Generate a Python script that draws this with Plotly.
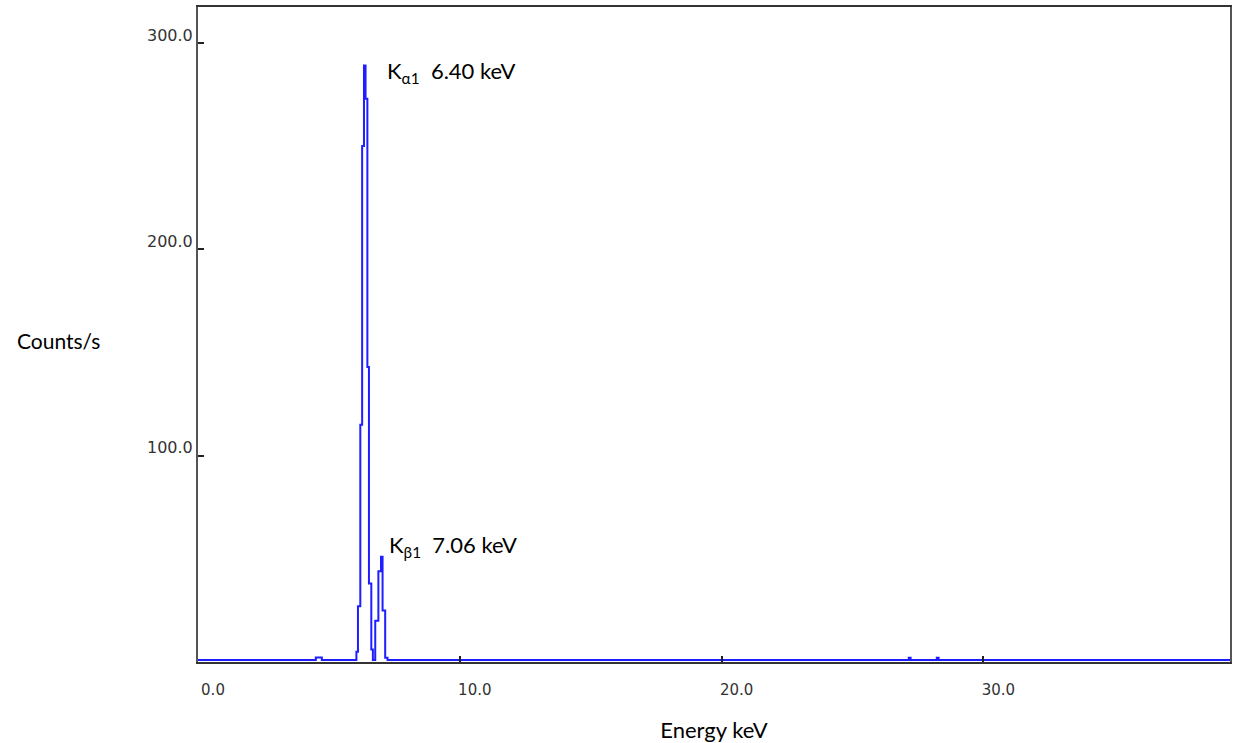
import plotly.graph_objects as go

# Step spectrum: each count applies from its energy to the next energy (keV)
energy = [0.0, 4.50, 4.73, 6.05, 6.11, 6.20, 6.27, 6.34, 6.40, 6.47, 6.53, 6.62, 6.68,
          6.77, 6.89, 6.99, 7.05, 7.15, 7.24, 27.15, 27.22, 28.22, 28.29, 39.42]
counts = [1.0, 2.2, 1.0, 5.0, 27.0, 115.0, 250.0, 289.0, 273.0, 143.0, 38.0, 6.0, 1.0,
          20.0, 44.0, 51.0, 25.0, 2.0, 1.0, 2.0, 1.0, 2.0, 1.0, 1.0]

x_ticks = [0, 10, 20, 30]
x_tick_labels = ["0.0", "10.0", "20.0", "30.0"]
y_ticks = [100, 200, 300]
y_tick_labels = ["100.0", "200.0", "300.0"]

peak_labels = ["K<sub>α1</sub>  6.40 keV", "K<sub>β1</sub>  7.06 keV"]
peak_label_x = [7.13, 7.21]
peak_label_y = [286, 56]

fig = go.Figure()
fig.add_trace(go.Scatter(
    x=energy, y=counts, mode="lines", line_shape="hv",
    line=dict(color="rgb(30,30,255)", width=2), showlegend=False, hoverinfo="x+y",
))

for t, xx, yy in zip(peak_labels, peak_label_x, peak_label_y):
    fig.add_annotation(x=xx, y=yy, xref="x", yref="y", text=t, showarrow=False,
                       xanchor="left", yanchor="middle",
                       font=dict(family="Lato", size=22, color="black"))

fig.add_annotation(x=-0.177, y=0.4916, xref="paper", yref="paper", text="Counts/s",
                   showarrow=False, xanchor="left", yanchor="middle",
                   font=dict(family="Lato", size=21, color="black"))

fig.update_layout(
    width=1233, height=743, autosize=False,
    margin=dict(l=198, r=1, t=7, b=81),
    paper_bgcolor="white", plot_bgcolor="white",
    xaxis=dict(
        range=[0, 39.42], tickvals=x_ticks, ticktext=x_tick_labels,
        ticks="inside", ticklen=6, tickwidth=2, tickcolor="#222",
        showgrid=False, zeroline=False,
        showline=True, linecolor="#333", linewidth=2, mirror=True,
        tickfont=dict(family="DejaVu Sans", size=15, color="#333"),
        ticklabelshift=15, ticklabelstandoff=13,
        title=dict(text="Energy keV", font=dict(family="Lato", size=22, color="black"), standoff=26),
    ),
    yaxis=dict(
        range=[0, 317.4], tickvals=y_ticks, ticktext=y_tick_labels,
        ticks="inside", ticklen=6, tickwidth=2, tickcolor="#222",
        showgrid=False, zeroline=False,
        showline=True, linecolor="#555", linewidth=2, mirror=True,
        tickfont=dict(family="DejaVu Sans", size=16, color="#333"),
        ticklabelshift=-8, ticklabelstandoff=0,
    ),
)

# remove the browser's default 8px page margin so the figure fills the window exactly
fig.write_html("out.html", config={"responsive": False, "displayModeBar": False},
               post_script="document.body.style.margin='0';document.body.style.overflow='hidden';")
